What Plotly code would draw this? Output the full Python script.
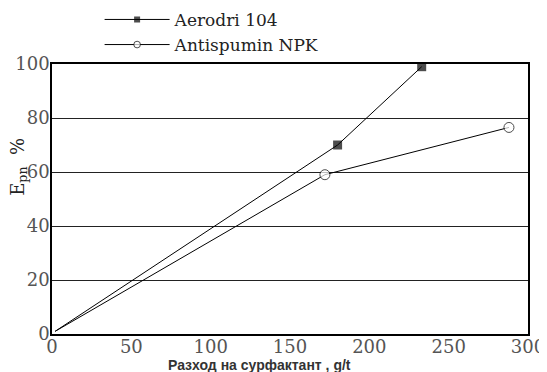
import plotly.graph_objects as go

# Data
aerodri_x = [2, 180, 233]
aerodri_y = [1, 70, 99]
antispumin_x = [2, 172, 288]
antispumin_y = [1, 59, 76.5]
x_ticks = [0, 50, 100, 150, 200, 250, 300]
y_ticks = [0, 20, 40, 60, 80, 100]

serif = "DejaVu Serif, Liberation Serif, serif"

fig = go.Figure()
fig.add_trace(go.Scatter(
    x=aerodri_x, y=aerodri_y, mode="lines+markers", name="Aerodri 104",
    line=dict(color="black", width=1),
    marker=dict(symbol="square", size=[0, 9, 9], color="black",
                line=dict(color="black", width=0)),
))
fig.add_trace(go.Scatter(
    x=antispumin_x, y=antispumin_y, mode="lines+markers", name="Antispumin NPK",
    line=dict(color="black", width=1),
    marker=dict(symbol="circle", size=[0, 10, 10], color="white",
                line=dict(color="black", width=1)),
))

fig.update_layout(
    width=539, height=364,
    margin=dict(l=44, r=19, t=56, b=38, autoexpand=False),
    paper_bgcolor="white", plot_bgcolor="white",
    showlegend=True,
    legend=dict(x=0.10, y=1.23, xanchor="left", yanchor="top",
                font=dict(family=serif, size=17, color="#222"),
                bgcolor="rgba(0,0,0,0)", tracegroupgap=0, itemwidth=65),
    font=dict(family=serif, size=17, color="#444"),
)
fig.update_xaxes(
    range=[0, 300], tickvals=x_ticks, ticktext=[str(v) for v in x_ticks],
    showgrid=False, zeroline=False, showline=True, linecolor="black",
    linewidth=1.5, mirror=True, ticks="", ticklabelstandoff=-4,
    tickfont=dict(family=serif, size=18, color="#555"),
)
fig.update_yaxes(
    range=[0, 100], tickvals=y_ticks, ticktext=[str(v) for v in y_ticks],
    showgrid=True, gridcolor="#222", gridwidth=1, zeroline=False,
    showline=True, linecolor="black", linewidth=1.5, mirror=True, ticks="",
    ticklabelstandoff=-3,
    tickfont=dict(family=serif, size=18, color="#555"),
)

fig.add_annotation(
    text="E<sub>pn</sub>  %", xref="paper", yref="paper",
    x=-0.071, y=0.62, xanchor="center", yanchor="middle",
    textangle=-90, showarrow=False,
    font=dict(family=serif, size=18, color="#222"),
)
fig.add_annotation(
    text="<b>Разход на сурфактант , g/t</b>", xref="paper", yref="paper",
    x=(259 - 52) / 476, y=-0.078, xanchor="center", yanchor="top", showarrow=False,
    font=dict(family="Liberation Sans, Arial, sans-serif", size=14, color="#333"),
)

fig.write_html("out.html")
